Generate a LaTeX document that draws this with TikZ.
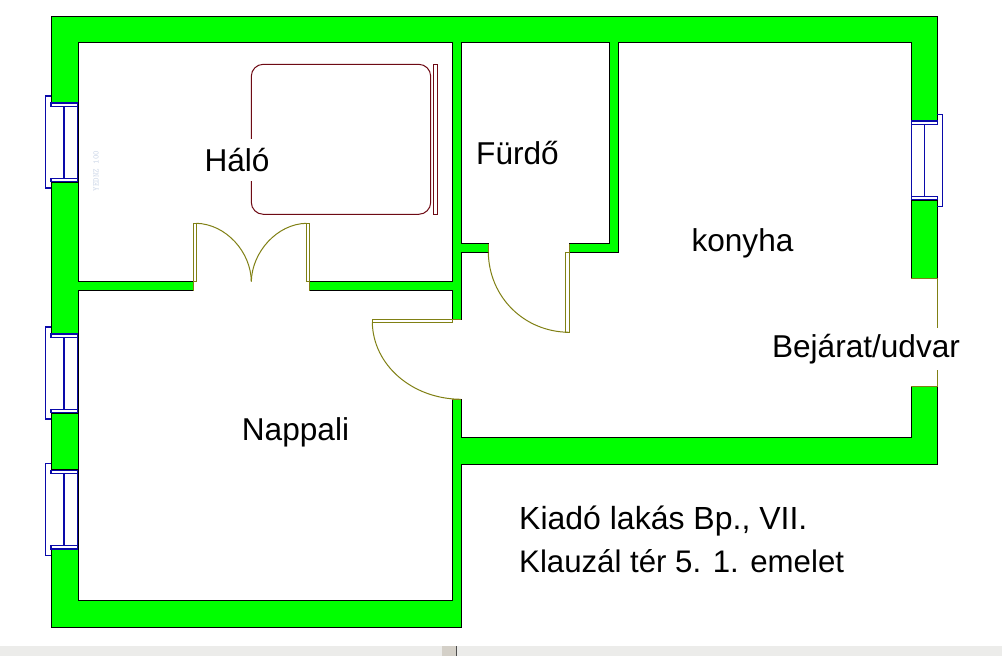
\documentclass[tikz,border=0pt]{standalone}
\usepackage{fontspec}
\setmainfont{Liberation Sans}
\usetikzlibrary{positioning}
\definecolor{wallgreen}{RGB}{0,255,0}
\definecolor{winblue}{RGB}{10,10,170}
\definecolor{doorolive}{RGB}{128,128,20}
\definecolor{beddark}{RGB}{110,10,20}
\definecolor{statusgray}{RGB}{236,236,234}
\definecolor{handlegray}{RGB}{212,208,200}
\definecolor{faintblue}{RGB}{205,215,232}
\tikzstyle{wall}=[draw=black,line width=1pt,fill=wallgreen]
\tikzstyle{room}=[draw=black,line width=1pt,fill=white]
\tikzstyle{door}=[draw=doorolive,line width=1pt]
\tikzstyle{win}=[draw=winblue,line width=1.2pt]
\tikzstyle{bed}=[draw=beddark,line width=1pt]
\tikzstyle{label}=[fill=white,inner sep=1pt,minimum height=42pt,font=\fontsize{31.6}{36}\selectfont]
\tikzstyle{plain}=[inner sep=0pt,font=\fontsize{31.6}{36}\selectfont]
\begin{document}
\begin{tikzpicture}[x=1pt,y=-1pt]
    \useasboundingbox (0,0) rectangle (1002,656);
    % walls and rooms
    \draw[wall] (51,16) -- (937.3,16) -- (937.3,464) -- (461,464) -- (461,627) -- (51,627) -- cycle;
    \draw[room] (78,42) -- (452.3,42) -- (452.3,281.5) -- (309.3,281.5) -- (309.3,290.5)
        -- (452.3,290.5) -- (452.3,319.3) -- (461,319.3) -- (461,252.3) -- (488.3,252.3)
        -- (488.3,243.7) -- (461,243.7) -- (461,42) -- (609.7,42) -- (609.7,243.7)
        -- (569.3,243.7) -- (569.3,252.3) -- (618.7,252.3) -- (618.7,42) -- (911.3,42)
        -- (911.3,278) -- (937.3,278) -- (937.3,386) -- (911.3,386) -- (911.3,437.4)
        -- (461,437.4) -- (461,399.3) -- (452.3,399.3) -- (452.3,600) -- (78,600)
        -- (78,290.5) -- (193.3,290.5) -- (193.3,281.5) -- (78,281.5) -- cycle;
    % windows
    \foreach \wy in {96,327,463.3}{
        \fill[white] (50,\wy+6.3) rectangle (78,\wy+86.3);
        \draw[black] (51,\wy+6.3) -- (78,\wy+6.3) (51,\wy+86.3) -- (78,\wy+86.3);
        \draw[win] (51,\wy+7) rectangle (77.5,\wy+10.3);
        \draw[win] (51,\wy+82.3) rectangle (77.5,\wy+85.6);
        \draw[win] (77.5,\wy+6.3) -- (77.5,\wy+86.3);
        \draw[win] (51,\wy) -- (45.5,\wy) -- (45.5,\wy+92) -- (51,\wy+92);
        \draw[win,line width=2pt] (64,\wy+10.3) -- (64,\wy+82.3);
    }
    \def\wy{114.3}
    \fill[white] (911.3,\wy+6) rectangle (938.5,\wy+86);
    \draw[black] (911.3,\wy+6) -- (937.3,\wy+6) (911.3,\wy+86) -- (937.3,\wy+86);
    \draw[win] (911.3,\wy+6.7) rectangle (937.3,\wy+10);
    \draw[win] (911.3,\wy+82) rectangle (937.3,\wy+85.3);
    \draw[win] (911.3,\wy+6) -- (911.3,\wy+86);
    \draw[win] (937.3,\wy) -- (942.3,\wy) -- (942.3,\wy+92) -- (937.3,\wy+92);
    \draw[win] (924.3,\wy+10) -- (924.3,\wy+82);
    % doors
    \draw[door] (193.3,281.5) -- (193.3,290.5) (309.3,281.5) -- (309.3,290.5);
    \draw[door] (193.3,281.5) rectangle (196.3,223.3);
    \draw[door] (306.3,281.5) rectangle (309.3,223.3);
    \draw[door] (196.3,223.3) .. controls (226,224) and (251,252) .. (251.3,281.5);
    \draw[door] (306.3,223.3) .. controls (277,224) and (252,252) .. (251.3,281.5);
    \draw[door] (488.3,243.7) -- (488.3,252.3);
    \draw[door] (569.3,243.7) -- (569.3,252.3);
    \draw[door] (565.3,252.3) rectangle (569.3,332.3);
    \draw[door] (488.3,252.3) .. controls (489,297) and (524,332) .. (569.3,332.3);
    \draw[door] (452.3,319.3) -- (461,319.3) (452.3,399.3) -- (461,399.3);
    \draw[door] (372.3,319.3) rectangle (452.3,322.3);
    \draw[door] (372.3,322.3) .. controls (373,365) and (412,399) .. (461,399.3);
    \draw[door] (911.3,278) -- (937.3,278) -- (937.3,386) -- (911.3,386);
    % bed
    \draw[bed,rounded corners=12pt] (251.3,64.3) rectangle (430.7,214.3);
    \draw[bed] (433.3,64.3) rectangle (437.7,214.3);
    % labels
    \node[label] (halo) at (237,160) {Háló};
    \node[plain] (furdo) at (517.5,153.5) {Fürdő};
    \node[plain] (konyha) at (742.5,243) {konyha};
    \node[label] (bejarat) at (866,349) {Bejárat/udvar};
    \node[plain] (nappali) at (295.5,432) {Nappali};
    \node[plain,anchor=west,font=\fontsize{32}{36}\selectfont] (kiado) at (519,521) {Kiadó lakás Bp., VII.};
    \node[plain,anchor=west,font=\fontsize{31.2}{36}\selectfont] (klauzal) at (519,561) {Klauzál tér 5. 1. emelet};
    \node[inner sep=0pt,text=faintblue,rotate=90,font=\ttfamily\fontsize{8.5}{9}\selectfont] (mark) at (96,171) {YEDNZ 100};
    % bottom bar
    \fill[statusgray] (0,646) rectangle (1002,656);
    \fill[handlegray] (442,646) rectangle (456,656);
    \draw[black!70,line width=1pt] (456.5,646) -- (456.5,656);
\end{tikzpicture}
\end{document}
